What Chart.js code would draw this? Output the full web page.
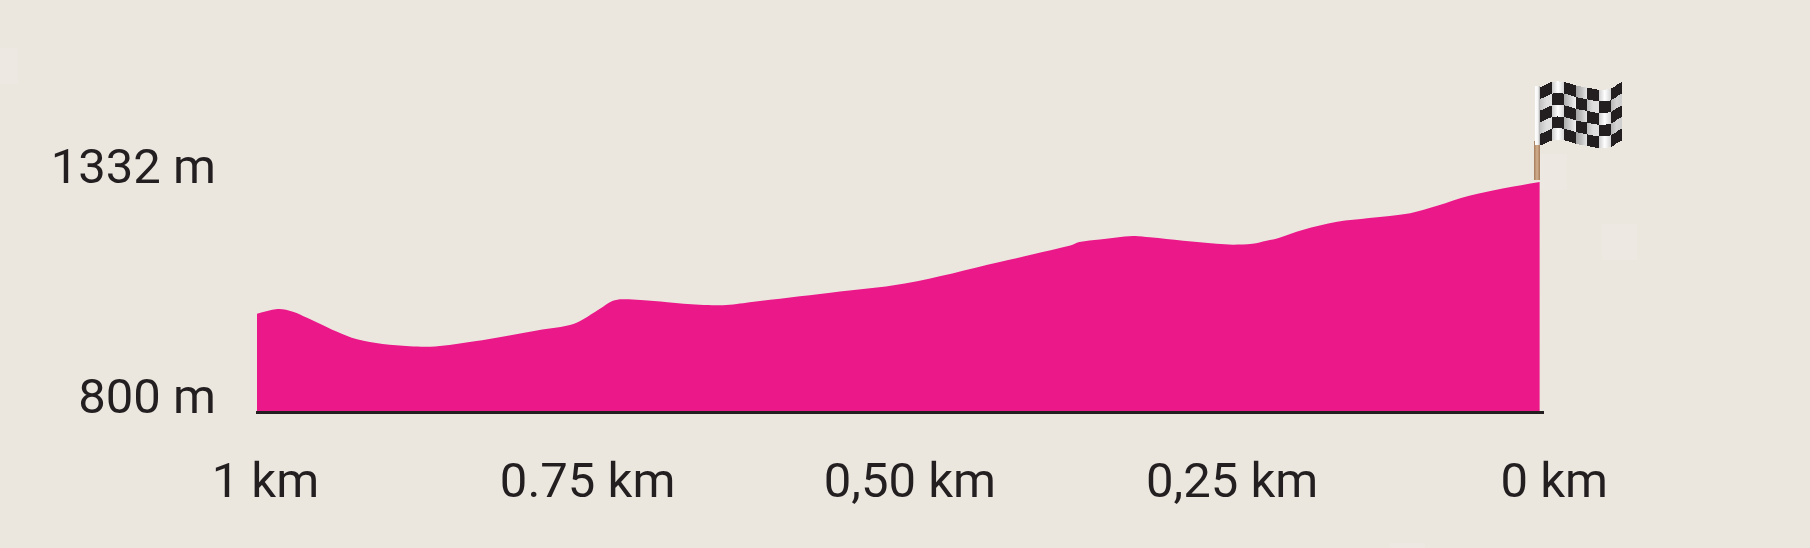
<!DOCTYPE html>
<html>
<head>
<meta charset="utf-8">
<title>Altimetria ultimo km</title>
<script src="https://cdn.jsdelivr.net/npm/chart.js@4/dist/chart.umd.min.js"></script>
<style>
  html, body { margin: 0; padding: 0; background: #ebe7df; }
  /* the pale patches that sit on the paper of the original */
  #wrap {
    position: relative; width: 1810px; height: 548px;
    background-image:
      linear-gradient(#ede9e2, #ede9e2), linear-gradient(#ede9e2, #ede9e2),
      linear-gradient(#ede9e2, #ede9e2), linear-gradient(#ede9e2, #ede9e2);
    background-repeat: no-repeat;
    background-size: 18px 36px, 27px 36px, 35px 36px, 35px 5px;
    background-position: 0 48px, 1540px 154px, 1602px 224px, 1390px 543px;
  }
</style>
</head>
<body>
<div id="wrap"><canvas id="profile" width="1810" height="548"></canvas></div>
<script>
// Distance to the finish (km) and altitude (m)
const distanceKm = [1, 0.984, 0.972, 0.961, 0.951, 0.938, 0.922, 0.902, 0.881, 0.865, 0.85, 0.829,
  0.811, 0.785, 0.756, 0.746, 0.733, 0.723, 0.715, 0.701, 0.68, 0.655, 0.637, 0.626, 0.616, 0.553,
  0.495, 0.421, 0.395, 0.366, 0.359, 0.343, 0.317, 0.304, 0.278, 0.252, 0.239, 0.224, 0.213, 0.203,
  0.185, 0.158, 0.133, 0.101, 0.08, 0.055, 0.029, 0];
const altitudeM = [1027, 1038, 1032, 1018, 1004, 986, 968, 957, 952, 951, 955, 964,
  973, 987, 1001, 1014, 1038, 1057, 1061, 1059, 1054, 1048, 1047, 1050, 1054, 1076,
  1097, 1147, 1165, 1185, 1193, 1199, 1207, 1204, 1196, 1189, 1187, 1189, 1196, 1203,
  1221, 1240, 1249, 1260, 1277, 1300, 1317, 1332];

const xTickValues = [1, 0.75, 0.5, 0.25, 0];
const xTickLabels = ['1 km', '0.75 km', '0,50 km', '0,25 km', '0 km'];
const yTickValues = [800, 1332];
const yTickLabels = ['800 m', '1332 m'];

const INK = '#231f20';
const PINK = '#eb188a';
const TICK_FONT = { family: 'Roboto', size: 49, weight: '400' };

// Smooth height of the flag's top edge between the column boundaries
function waveAt(wave, pos) {
  const i = Math.min(wave.length - 2, Math.floor(pos));
  const t = pos - i;
  const p0 = wave[Math.max(0, i - 1)], p1 = wave[i], p2 = wave[i + 1];
  const p3 = wave[Math.min(wave.length - 1, i + 2)];
  return 0.5 * (2 * p1 + (p2 - p0) * t + (2 * p0 - 5 * p1 + 4 * p2 - p3) * t * t
    + (3 * p1 - p0 - 3 * p2 + p3) * t * t * t);
}

// Checkered flag planted on the last point of the profile
const flagPlugin = {
  id: 'finishFlag',
  afterDraw(chart) {
    const { ctx, scales } = chart;
    const px = Math.round(scales.xData.getPixelForValue(0));
    const py = Math.round(scales.y.getPixelForValue(1332));
    const wave = [5, 0, 0, 3.3, 5.6, 7.6, 6.6, 0];
    // grey level of the light squares at the left, middle and right of each column
    const shades = [[196, 222, 226], [205, 255, 215], [170, 205, 240], [160, 190, 232],
      [190, 222, 225], [205, 255, 215], [180, 212, 205]];
    const cell = 11.67;
    const top = py - 100;
    ctx.save();
    // pole
    const pole = ctx.createLinearGradient(px - 6, 0, px, 0);
    pole.addColorStop(0, '#a67c5b');
    pole.addColorStop(0.5, '#d2b08f');
    pole.addColorStop(1, '#a67c5b');
    ctx.fillStyle = pole;
    ctx.fillRect(px - 6, py - 41, 6, 39);
    const tip = ctx.createLinearGradient(px - 5, 0, px, 0);
    tip.addColorStop(0, '#ffffff');
    tip.addColorStop(0.6, '#f4f4f4');
    tip.addColorStop(1, '#a9a9a9');
    ctx.fillStyle = tip;
    ctx.fillRect(px - 5, top + 4, 5, 59);
    // cloth, one pixel strip at a time so that the rows follow the wave
    for (let i = 0; i < 82; i++) {
      const col = Math.min(6, Math.floor(i / cell));
      const t = i / cell - col;
      const s = t < 0.5
        ? shades[col][0] + (shades[col][1] - shades[col][0]) * t * 2
        : shades[col][1] + (shades[col][2] - shades[col][1]) * (t - 0.5) * 2;
      const edge = top + waveAt(wave, i / cell);
      for (let row = 0; row < 5; row++) {
        const v = Math.round(s);
        const y0 = Math.round(edge + row * cell);
        const y1 = Math.round(edge + (row + 1) * cell);
        ctx.fillStyle = (row + col) % 2 === 0 ? INK : `rgb(${v},${v},${v})`;
        ctx.fillRect(px + i, y0, 1, y1 - y0);
      }
    }
    ctx.restore();
  }
};

new Chart(document.getElementById('profile').getContext('2d'), {
  type: 'line',
  data: {
    datasets: [{
      xAxisID: 'xData',
      data: distanceKm.map((km, i) => ({ x: km, y: altitudeM[i] })),
      borderWidth: 0,
      pointRadius: 0,
      backgroundColor: PINK,
      fill: 'origin',
      tension: 0.35
    }]
  },
  plugins: [flagPlugin],
  options: {
    responsive: false,
    animation: false,
    layout: { padding: { top: 182, right: 267, left: 0, bottom: 0 } },
    plugins: { legend: { display: false }, tooltip: { enabled: false } },
    scales: {
      // the profile itself runs on this one
      xData: { type: 'linear', display: false, reverse: true, min: -0.0025, max: 1 },
      // the printed km labels are spaced a little wider than the profile
      x: {
        type: 'linear',
        reverse: true,
        min: 0.0088,
        max: 1.0065,
        afterBuildTicks: scale => { scale.ticks = xTickValues.map(value => ({ value })); },
        afterFit: scale => { scale.height = 136; },
        grid: { display: false, drawTicks: false },
        border: { display: true, color: INK, width: 3, z: 1 },
        ticks: {
          color: INK,
          font: TICK_FONT,
          padding: 43,
          autoSkip: false,
          maxRotation: 0,
          callback: value => xTickLabels[xTickValues.indexOf(value)]
        }
      },
      y: {
        min: 800,
        max: 1332,
        afterBuildTicks: scale => { scale.ticks = yTickValues.map(value => ({ value })); },
        afterFit: scale => { scale.width = 257; },
        grid: { display: false, drawTicks: false },
        border: { display: false },
        ticks: {
          color: INK,
          font: TICK_FONT,
          padding: 41,
          labelOffset: -11,
          callback: value => yTickLabels[yTickValues.indexOf(value)]
        }
      }
    }
  }
});
</script>
</body>
</html>
